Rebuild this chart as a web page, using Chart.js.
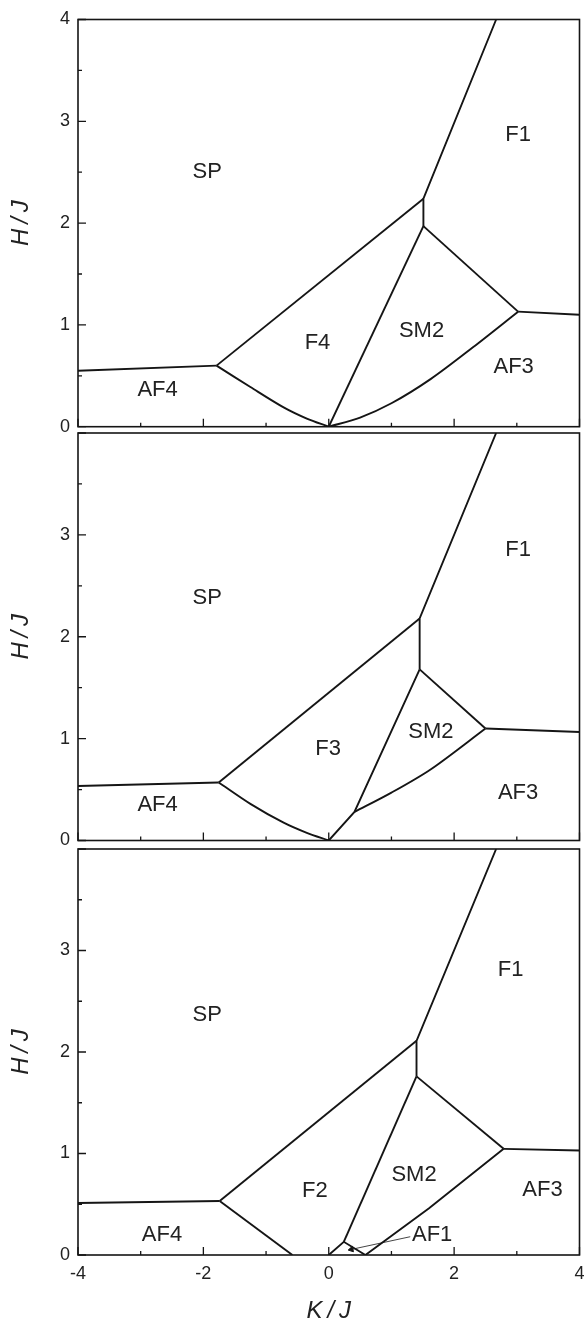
<!DOCTYPE html>
<html>
<head>
<meta charset="utf-8">
<script src="https://cdn.jsdelivr.net/npm/chart.js@4/dist/chart.umd.min.js"></script>
<style>
  html, body { margin: 0; padding: 0; background: #fff; }
  #wrap { position: relative; width: 585px; height: 1326px; overflow: hidden; }
  canvas { position: absolute; left: 0; }
</style>
</head>
<body>
<div id="wrap">
  <canvas id="p1" width="585" height="440" style="top:0px"></canvas>
  <canvas id="p2" width="585" height="424" style="top:428px"></canvas>
  <canvas id="p3" width="585" height="482" style="top:844px"></canvas>
</div>
<script>
// phase boundaries, [K/J, H/J] pairs

// top panel
const p1Af4Sp = [[-4, 0.55], [-1.79, 0.60]];
const p1SpF4 = [[-1.79, 0.60], [1.51, 2.24]];
const p1F4Af4 = [[-1.79, 0.60], [-1.25, 0.39], [-0.72, 0.19], [-0.35, 0.08], [0, 0]];
const p1F4Sm2 = [[0, 0], [1.51, 1.97]];
const p1SpF1 = [[1.51, 1.97], [1.51, 2.24], [2.67, 4]];
const p1Sm2F1 = [[1.51, 1.97], [3.02, 1.13]];
const p1Sm2Af3 = [[0, 0], [0.5, 0.09], [1.0, 0.23], [1.63, 0.47], [2.3, 0.78], [3.02, 1.13]];
const p1F1Af3 = [[3.02, 1.13], [4, 1.10]];
const p1Labels = [["SP", -1.94, 2.50], ["F1", 3.02, 2.87], ["F4", -0.18, 0.82],
  ["SM2", 1.48, 0.94], ["AF3", 2.95, 0.59], ["AF4", -2.73, 0.36]];

// middle panel
const p2Af4Sp = [[-4, 0.535], [-1.755, 0.57]];
const p2SpF3 = [[-1.755, 0.57], [1.45, 2.18]];
const p2F3Af4 = [[-1.755, 0.57], [-1.25, 0.36], [-0.72, 0.175], [-0.35, 0.075], [0, 0]];
const p2F3Sm2 = [[0, 0], [0.41, 0.28], [1.45, 1.68]];
const p2SpF1 = [[1.45, 1.68], [1.45, 2.18], [2.67, 4]];
const p2Sm2F1 = [[1.45, 1.68], [2.50, 1.10]];
const p2Sm2Af3 = [[0.41, 0.28], [1.0, 0.47], [1.63, 0.70], [2.50, 1.10]];
const p2F1Af3 = [[2.50, 1.10], [4, 1.065]];
const p2Labels = [["SP", -1.94, 2.38], ["F1", 3.02, 2.85], ["F3", -0.01, 0.90],
  ["SM2", 1.63, 1.07], ["AF3", 3.02, 0.47], ["AF4", -2.73, 0.35]];

// bottom panel
const p3Af4Sp = [[-4, 0.513], [-1.74, 0.532]];
const p3SpF2 = [[-1.74, 0.532], [1.40, 2.11]];
const p3F2Af4 = [[-1.74, 0.532], [-0.58, 0]];
const p3SpF1 = [[1.40, 1.76], [1.40, 2.11], [2.67, 4]];
const p3F2Sm2 = [[0.24, 0.13], [1.40, 1.76]];
const p3Af1 = [[0, 0], [0.24, 0.13], [0.585, 0]];
const p3Sm2Af3 = [[0.585, 0], [1.6, 0.46], [2.79, 1.046]];
const p3Sm2F1 = [[1.40, 1.76], [2.79, 1.046]];
const p3F1Af3 = [[2.79, 1.046], [4, 1.03]];
const p3Arrow = [[1.30, 0.18], [0.36, 0.055]];
const p3Labels = [["SP", -1.94, 2.37], ["F1", 2.9, 2.81], ["F2", -0.22, 0.63],
  ["SM2", 1.36, 0.79], ["AF3", 3.41, 0.64], ["AF4", -2.66, 0.20], ["AF1", 1.65, 0.20]];

Chart.defaults.font.family = '"Liberation Sans", Arial, sans-serif';
Chart.defaults.color = "#222";

const ink = "#151515";

function boundary(points, curved) {
  return {
    data: points.map(([x, y]) => ({ x, y })),
    showLine: true,
    borderColor: ink,
    borderWidth: 1.9,
    pointRadius: 0,
    tension: curved ? 0.3 : 0,
  };
}

// frame, inward ticks and region names
const phasePlot = {
  id: "phasePlot",
  afterDatasetsDraw(chart, args, opts) {
    const { ctx, chartArea: a, scales: { x, y } } = chart;
    ctx.save();
    ctx.strokeStyle = ink;
    ctx.lineWidth = 1.6;
    ctx.strokeRect(a.left, a.top, a.right - a.left, a.bottom - a.top);

    ctx.lineWidth = 1.3;
    ctx.beginPath();
    y.ticks.forEach((t) => {
      const py = y.getPixelForValue(t.value);
      ctx.moveTo(a.left, py);
      ctx.lineTo(a.left + (Number.isInteger(t.value) ? 8 : 4), py);
    });
    x.ticks.forEach((t) => {
      const px = x.getPixelForValue(t.value);
      ctx.moveTo(px, a.bottom);
      ctx.lineTo(px, a.bottom - (t.value % 2 === 0 ? 8 : 4));
    });
    ctx.stroke();

    ctx.fillStyle = "#222";
    ctx.font = '22px "Liberation Sans", Arial, sans-serif';
    ctx.textAlign = "center";
    ctx.textBaseline = "middle";
    (opts.labels || []).forEach(([text, kx, hy]) => {
      ctx.fillText(text, x.getPixelForValue(kx), y.getPixelForValue(hy));
    });
    ctx.restore();
  },
};

function noPadding(scale) {
  scale.paddingLeft = 0;
  scale.paddingRight = 0;
  scale.paddingTop = 0;
  scale.paddingBottom = 0;
}

function makePanel(id, datasets, labels, layout) {
  const showK = layout.bottomLabels;
  return new Chart(document.getElementById(id), {
    type: "scatter",
    data: { datasets },
    plugins: [phasePlot],
    options: {
      responsive: false,
      animation: false,
      layout: { padding: { left: 0, right: 5.5, top: layout.top, bottom: 0 } },
      plugins: {
        legend: { display: false },
        tooltip: { enabled: false },
        phasePlot: { labels },
      },
      scales: {
        x: {
          type: "linear",
          min: -4,
          max: 4,
          grid: { display: false, drawTicks: false },
          border: { display: false },
          ticks: {
            stepSize: 1,
            autoSkip: false,
            maxRotation: 0,
            display: showK,
            padding: 8,
            font: { size: 18 },
            callback: (v) => (v % 2 === 0 ? String(v) : ""),
          },
          title: {
            display: showK,
            text: "K\u2009/\u2009J",
            font: { size: 24, style: "italic" },
            padding: { top: 0, bottom: 0 },
          },
          afterFit: (scale) => { scale.height = layout.xHeight; noPadding(scale); },
        },
        y: {
          type: "linear",
          min: 0,
          max: 4,
          grid: { display: false, drawTicks: false },
          border: { display: false },
          ticks: {
            stepSize: 0.5,
            autoSkip: false,
            padding: 8,
            font: { size: 18 },
            callback: (v) => (Number.isInteger(v) && (v < 4 || layout.showTop) ? String(v) : ""),
          },
          title: {
            display: true,
            text: "H\u2009/\u2009J",
            font: { size: 24, style: "italic" },
            padding: { top: 7, bottom: 0 },
          },
          afterFit: (scale) => { scale.width = 78; noPadding(scale); },
        },
      },
    },
  });
}

makePanel("p1", [
  boundary(p1Af4Sp), boundary(p1SpF4), boundary(p1F4Af4, true), boundary(p1F4Sm2),
  boundary(p1SpF1), boundary(p1Sm2F1), boundary(p1Sm2Af3, true), boundary(p1F1Af3),
], p1Labels, { top: 19.5, xHeight: 13.3, showTop: true, bottomLabels: false });

makePanel("p2", [
  boundary(p2Af4Sp), boundary(p2SpF3), boundary(p2F3Af4, true), boundary(p2F3Sm2),
  boundary(p2SpF1), boundary(p2Sm2F1), boundary(p2Sm2Af3, true), boundary(p2F1Af3),
], p2Labels, { top: 5, xHeight: 11.5, showTop: false, bottomLabels: false });

const arrow = boundary(p3Arrow);
arrow.borderWidth = 0.8;
arrow.pointRadius = [0, 3.2];
arrow.pointStyle = "triangle";
arrow.pointRotation = 258;
arrow.pointBackgroundColor = ink;
arrow.pointBorderColor = ink;
arrow.pointBorderWidth = 1;

makePanel("p3", [
  boundary(p3Af4Sp), boundary(p3SpF2), boundary(p3F2Af4), boundary(p3SpF1),
  boundary(p3F2Sm2), boundary(p3Af1), boundary(p3Sm2Af3), boundary(p3Sm2F1),
  boundary(p3F1Af3), arrow,
], p3Labels, { top: 4, xHeight: 71, showTop: false, bottomLabels: true });
</script>
</body>
</html>
